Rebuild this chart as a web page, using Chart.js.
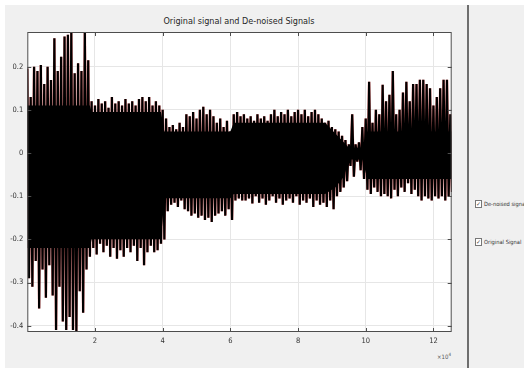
<!DOCTYPE html>
<html>
<head>
<meta charset="utf-8">
<script src="https://cdn.jsdelivr.net/npm/chart.js@4.4.1/dist/chart.umd.min.js"></script>
<style>
  html, body { margin: 0; padding: 0; background: #fff; }
  body { width: 524px; height: 368px; position: relative; overflow: hidden;
         font-family: 'Liberation Sans Narrow', 'DejaVu Sans Condensed', Arial, sans-serif; }
  #panel { position: absolute; left: 5px; top: 5px; width: 519px; height: 363px; background: #f0f0f0; }
  #divider { position: absolute; left: 467px; top: 5px; width: 2px; height: 363px; background: #6e6e6e; }
  #title { position: absolute; left: 27px; width: 424px; top: 16px; text-align: center;
           font-size: 9px; color: #262626; }
  #expo { position: absolute; left: 437px; top: 352px; font-size: 6px; color: #555; }
  #expo sup { font-size: 4.5px; }
  .leg { position: absolute; left: 475px; font-size: 5.7px; color: #333; white-space: nowrap; }
  .leg span { display: inline-block; width: 5px; height: 6px; border: 1px solid #777; background: #fff;
              font-size: 6px; line-height: 6px; text-align: center; vertical-align: middle; margin-right: 2px; color: #333; }
  canvas { position: absolute; left: 0; top: 0; }
</style>
</head>
<body>
<div id="panel"></div>
<div id="divider"></div>
<div id="title">Original signal and De-noised Signals</div>
<div id="expo">×10<sup>4</sup></div>
<div class="leg" style="top:200px"><span>✓</span>De-noised signal</div>
<div class="leg" style="top:238px"><span>✓</span>Original Signal</div>
<canvas id="chart" width="524" height="368"></canvas>
<script>
// envelope of the signal, one max and one min per 1000 samples
const binSize = 1000;
const upperEnv = [
  0.196, 0.13, 0.20, 0.19, 0.204, 0.16, 0.2, 0.169, 0.266, 0.19,
  0.223, 0.27, 0.274, 0.278, 0.185, 0.208, 0.19, 0.282, 0.215, 0.12,
  0.11, 0.125, 0.115, 0.12, 0.105, 0.13, 0.115, 0.12, 0.11, 0.125,
  0.115, 0.12, 0.11, 0.125, 0.13, 0.12, 0.13, 0.11, 0.12, 0.11,
  0.1, 0.08, 0.06, 0.065, 0.055, 0.07, 0.06, 0.09, 0.085, 0.095,
  0.08, 0.1, 0.107, 0.09, 0.1, 0.085, 0.07, 0.08, 0.06, 0.075,
  0.05, 0.09, 0.095, 0.085, 0.09, 0.08, 0.085, 0.075, 0.09, 0.08,
  0.085, 0.075, 0.09, 0.1, 0.085, 0.095, 0.09, 0.1, 0.085, 0.095,
  0.1, 0.09, 0.1, 0.085, 0.095, 0.1, 0.09, 0.08, 0.07, 0.075,
  0.06, 0.055, 0.05, 0.04, 0.03, 0.02, 0.09, 0.02, 0.025, 0.06,
  0.08, 0.165, 0.07, 0.1, 0.09, 0.158, 0.12, 0.135, 0.19, 0.09,
  0.1, 0.14, 0.165, 0.12, 0.16, 0.16, 0.17, 0.17, 0.16, 0.15,
  0.11, 0.13, 0.15, 0.17, 0.17, 0.09
];
const lowerEnv = [
  -0.29, -0.31, -0.25, -0.36, -0.27, -0.335, -0.26, -0.33, -0.41, -0.31,
  -0.39, -0.41, -0.38, -0.41, -0.415, -0.32, -0.37, -0.27, -0.24, -0.22,
  -0.235, -0.21, -0.23, -0.215, -0.24, -0.22, -0.245, -0.225, -0.24, -0.22,
  -0.23, -0.215, -0.25, -0.22, -0.26, -0.23, -0.215, -0.23, -0.225, -0.21,
  -0.2, -0.135, -0.12, -0.115, -0.125, -0.11, -0.13, -0.135, -0.145, -0.14,
  -0.15, -0.145, -0.155, -0.15, -0.16, -0.145, -0.14, -0.135, -0.145, -0.13,
  -0.155, -0.11, -0.105, -0.11, -0.11, -0.105, -0.117, -0.1, -0.115, -0.105,
  -0.12, -0.11, -0.1, -0.115, -0.105, -0.12, -0.11, -0.105, -0.115, -0.1,
  -0.12, -0.11, -0.115, -0.105, -0.125, -0.11, -0.12, -0.115, -0.125, -0.11,
  -0.13, -0.1, -0.09, -0.08, -0.065, -0.03, -0.055, -0.02, -0.04, -0.06,
  -0.085, -0.095, -0.08, -0.09, -0.1, -0.095, -0.1, -0.105, -0.085, -0.1,
  -0.08, -0.09, -0.07, -0.095, -0.085, -0.1, -0.11, -0.1, -0.105, -0.11,
  -0.1, -0.105, -0.1, -0.11, -0.1, -0.09
];
// solid dense band of the signal (where the trace is fully black)
const coreX = [0, 18500, 19000, 39500, 40500, 60000, 61000, 88000, 91000, 93500, 95000, 99000, 100500, 125400];
const coreUpper = [0.11, 0.11, 0.095, 0.095, 0.05, 0.05, 0.07, 0.07, 0.045, 0.025, 0.012, 0.012, 0.05, 0.05];
const coreLower = [-0.22, -0.22, -0.2, -0.2, -0.105, -0.105, -0.095, -0.095, -0.08, -0.055, -0.015, -0.015, -0.06, -0.06];

const yTicks = [-0.4, -0.3, -0.2, -0.1, 0, 0.1, 0.2];
const xTicks = [20000, 40000, 60000, 80000, 100000, 120000];
const xTickLabels = ['2', '4', '6', '8', '10', '12'];

const points = [];
upperEnv.forEach((v, i) => {
  points.push({ x: i * binSize, y: v });
  points.push({ x: i * binSize + binSize / 2, y: lowerEnv[i] });
});
const coreTop = coreX.map((x, i) => ({ x: x, y: coreUpper[i] }));
const coreBottom = coreX.map((x, i) => ({ x: x, y: coreLower[i] }));

const tickFont = { family: "'Liberation Sans Narrow', 'DejaVu Sans Condensed', Arial", size: 7.5 };

const boxPlugin = {
  id: 'box',
  beforeDraw(chart) {
    const a = chart.chartArea, ctx = chart.ctx;
    ctx.save();
    ctx.fillStyle = '#fff';
    ctx.fillRect(a.left, a.top, a.right - a.left, a.bottom - a.top);
    ctx.restore();
  },
  afterDraw(chart) {
    const a = chart.chartArea, ctx = chart.ctx;
    const xs = chart.scales.x, ys = chart.scales.y;
    ctx.save();
    ctx.strokeStyle = '#4d4d4d';
    ctx.lineWidth = 1;
    ctx.strokeRect(a.left + 0.5, a.top + 0.5, a.right - a.left - 1, a.bottom - a.top - 1);
    ctx.beginPath();
    yTicks.forEach(t => {
      const y = Math.round(ys.getPixelForValue(t)) + 0.5;
      ctx.moveTo(a.left, y); ctx.lineTo(a.left + 4, y);
      ctx.moveTo(a.right, y); ctx.lineTo(a.right - 4, y);
    });
    xTicks.forEach(t => {
      const x = Math.round(xs.getPixelForValue(t)) + 0.5;
      ctx.moveTo(x, a.bottom); ctx.lineTo(x, a.bottom - 4);
      ctx.moveTo(x, a.top); ctx.lineTo(x, a.top + 4);
    });
    ctx.stroke();
    ctx.restore();
  }
};

new Chart(document.getElementById('chart'), {
  type: 'line',
  data: {
    datasets: [
      {
        label: 'De-noised signal',
        data: points,
        borderColor: '#000',
        borderWidth: 2.2,
        pointRadius: 0,
        tension: 0,
        order: 0
      },
      {
        label: 'core top',
        data: coreTop,
        borderWidth: 0,
        backgroundColor: '#000',
        pointRadius: 0,
        fill: '+1',
        order: 1
      },
      {
        label: 'core bottom',
        data: coreBottom,
        borderWidth: 0,
        pointRadius: 0,
        fill: false,
        order: 2
      },
      {
        label: 'Original Signal',
        data: points,
        borderColor: 'rgba(255,0,0,0.5)',
        borderWidth: 2.5,
        pointRadius: 0,
        tension: 0,
        order: 3
      }
    ]
  },
  options: {
    responsive: false,
    animation: false,
    devicePixelRatio: 1,
    layout: { padding: { left: 0, top: 32, right: 72.3, bottom: 0 } },
    plugins: { legend: { display: false }, tooltip: { enabled: false } },
    scales: {
      x: {
        type: 'linear',
        min: 0,
        max: 125400,
        afterFit: s => { s.height = 36; },
        afterBuildTicks: s => { s.ticks = xTicks.map(v => ({ value: v })); },
        ticks: {
          font: tickFont, color: '#333', padding: 5, maxRotation: 0,
          callback: (v) => xTickLabels[xTicks.indexOf(v)]
        },
        grid: { color: '#e6e6e6', drawTicks: false },
        border: { display: false }
      },
      y: {
        min: -0.4146,
        max: 0.2804,
        afterFit: s => { s.width = 27.3; },
        afterBuildTicks: s => { s.ticks = yTicks.map(v => ({ value: v })); },
        ticks: {
          font: tickFont, color: '#333', padding: 4,
          callback: (v) => String(Math.round(v * 10) / 10)
        },
        grid: { color: '#e6e6e6', drawTicks: false },
        border: { display: false }
      }
    }
  },
  plugins: [boxPlugin]
});
</script>
</body>
</html>
